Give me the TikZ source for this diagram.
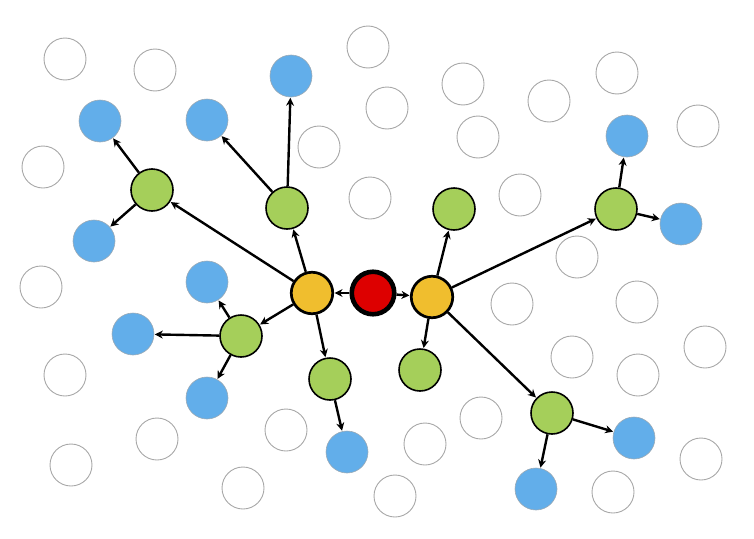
\documentclass[tikz,border=0pt]{standalone}
\usetikzlibrary{arrows.meta}
\definecolor{cblue}{HTML}{62AEEA}
\definecolor{cgreen}{HTML}{A5CF5A}
\definecolor{cyellow}{HTML}{F0BE2E}
\definecolor{cred}{HTML}{DD0000}
\definecolor{cgray}{HTML}{A8A8A8}
\tikzset{
  base/.style={circle, minimum size=42pt, inner sep=0pt},
  empty/.style={base, draw=cgray, line width=0.9pt, fill=white},
  bluen/.style={base, draw=cgray!80!cblue, line width=0.6pt, fill=cblue},
  greenn/.style={base, draw=black, line width=1.6pt, fill=cgreen},
  yellown/.style={base, draw=black, line width=2.7pt, fill=cyellow, minimum size=41.5pt},
  redn/.style={base, draw=black, line width=4.6pt, fill=cred, minimum size=42.5pt},
  edge/.style={draw=black, line width=2.4pt, -{Stealth[length=8pt,width=8pt]}, shorten >=0.5pt},
}
\begin{document}
\begin{tikzpicture}[x=1pt,y=-1pt]
\useasboundingbox (0,0) rectangle (754,538);
% empty nodes
\foreach \n/\x/\y in {w1/65/59, w2/155/70, w3/368/47, w4/463/84, w5/549/101, w6/617/73, w7/387/108, w8/478/137, w9/319/147, w10/43/167, w11/698/126, w12/370/198, w13/520/195, w14/577/257, w15/41/287, w16/512/304, w17/637/302, w18/705/347, w19/65/375, w20/572/357, w21/638/375, w22/157/439, w23/286/430, w24/425/444, w25/481/418, w26/71/465, w27/243/488, w28/395/496, w29/613/492, w30/701/459}
  \node[empty] (\n) at (\x,\y) {};
% center
\node[redn] (r) at (373,293) {};
\node[yellown] (yl) at (312,293) {};
\node[yellown] (yr) at (432,297) {};
% greens
\node[greenn] (g1) at (152,190) {};
\node[greenn] (g2) at (287,208) {};
\node[greenn] (g3) at (241,336) {};
\node[greenn] (g4) at (330,379) {};
\node[greenn] (g5) at (454,209) {};
\node[greenn] (g6) at (616,209) {};
\node[greenn] (g7) at (420,370) {};
\node[greenn] (g8) at (552,413) {};
% blues
\node[bluen] (b1) at (100,121) {};
\node[bluen] (b2) at (94,241) {};
\node[bluen] (b3) at (207,120) {};
\node[bluen] (b4) at (291,76) {};
\node[bluen] (b5) at (207,282) {};
\node[bluen] (b6) at (133,334) {};
\node[bluen] (b7) at (207,398) {};
\node[bluen] (b8) at (347,452) {};
\node[bluen] (b9) at (627,136) {};
\node[bluen] (b10) at (681,224) {};
\node[bluen] (b11) at (634,438) {};
\node[bluen] (b12) at (536,489) {};
% edges
\draw[edge] (r) -- (yl);
\draw[edge] (r) -- (yr);
\foreach \g in {g1,g2,g3,g4} \draw[edge] (yl) -- (\g);
\foreach \g in {g5,g6,g7,g8} \draw[edge] (yr) -- (\g);
\draw[edge] (g1) -- (b1);
\draw[edge] (g1) -- (b2);
\draw[edge] (g2) -- (b3);
\draw[edge] (g2) -- (b4);
\draw[edge] (g3) -- (b5);
\draw[edge] (g3) -- (b6);
\draw[edge] (g3) -- (b7);
\draw[edge] (g4) -- (b8);
\draw[edge] (g6) -- (b9);
\draw[edge] (g6) -- (b10);
\draw[edge] (g8) -- (b11);
\draw[edge] (g8) -- (b12);
\end{tikzpicture}
\end{document}
